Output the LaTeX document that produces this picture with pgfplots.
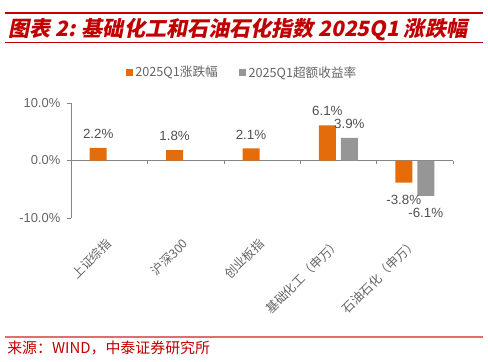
\documentclass[border=0pt]{standalone}
\usepackage{pgfplots}
\pgfplotsset{compat=1.18}
\usepackage{fontspec}
\setmainfont{Liberation Sans}
\newfontfamily\cjk{Noto Sans CJK SC}
\newfontfamily\cjkt[FakeSlant=0.2]{Noto Sans CJK SC}
\definecolor{orangebar}{RGB}{228,108,10}
\definecolor{graybar}{RGB}{150,150,150}
\definecolor{axcol}{RGB}{134,134,134}
\definecolor{tickcol}{RGB}{100,100,100}
\definecolor{labcol}{RGB}{80,80,80}
\definecolor{titlered}{RGB}{192,0,0}
\definecolor{linepink}{RGB}{224,110,110}
\begin{document}
\begin{tikzpicture}
\path[use as bounding box] (0,0) rectangle (366pt,270.75pt);
\draw[titlered, line width=1.5pt] (3.75pt,261pt) -- (362.25pt,261pt);
\node[anchor=base west, inner sep=0pt, text=titlered, font=\cjkt\bfseries\fontsize{15.8}{17}\selectfont] at (6pt,243pt) {图表 2: 基础化工和石油石化指数 2025Q1 涨跌幅};
\draw[titlered, line width=0.75pt] (3.75pt,238.5pt) -- (362.25pt,238.5pt);
\draw[linepink, line width=0.9pt] (3.75pt,18pt) -- (362.25pt,18pt);
\node[anchor=west, inner sep=0pt, text=titlered, font=\cjk\fontsize{11.2}{12}\selectfont] at (5.25pt,9.75pt) {来源：WIND，中泰证券研究所};
\begin{axis}[
  at={(53.25pt,107pt)}, anchor=south west, scale only axis,
  width=286.5pt, height=86.7pt,
  xmin=-0.5, xmax=4.5, ymin=-10, ymax=10,
  axis y line=left, axis x line=bottom,
  y axis line style={draw=axcol, -}, x axis line style={draw=none},
  xtick={0,1,2,3,4},
  xticklabels={上证综指,沪深300,创业板指,基础化工（申万）,石油石化（申万）},
  xtick style={draw=none},
  xticklabel style={rotate=45, anchor=east, font=\cjk\fontsize{9.3}{10}\selectfont, text=tickcol, inner sep=0pt},
  xticklabel shift=14pt,
  ytick={-10,0,10}, yticklabels={-10.0\%,0.0\%,10.0\%},
  ytick style={draw=axcol}, tick align=outside, major tick length=3pt,
  yticklabel style={font=\fontsize{9.7}{11}\selectfont, text=tickcol, xshift=-1.5pt},
  ybar, bar width=12.75pt,
  clip=false,
  /pgf/number format/assume math mode=true,
  legend style={at={(0.449,1.26)}, anchor=center, draw=none, fill=none,
    legend columns=2, font=\cjk\fontsize{9.5}{11}\selectfont, text=tickcol,
    /tikz/every even column/.append style={column sep=14pt}},
  legend image code/.code={\fill[#1] (0pt,-2.5pt) rectangle (5pt,2.5pt);},
  nodes near coords={\pgfmathprintnumber[fixed,fixed zerofill,precision=1]{\pgfplotspointmeta}\%},
  visualization depends on={y \as \rawy},
  every node near coord/.append style={font=\fontsize{10}{12}\selectfont, text=labcol, anchor=center, yshift={\rawy>0 ? 10.5 : -12.75}},
]
\draw[axcol] (axis cs:-0.5,0) -- (axis cs:4.5,0);
\pgfplotsinvokeforeach{0.5,1.5,2.5,3.5,4.5}{\draw[axcol] (axis cs:#1,0) -- ([yshift=-2.5pt]axis cs:#1,0);}
\addplot[fill=orangebar, draw=none, bar shift=-8.25pt] coordinates {(0,2.2) (1,1.8) (2,2.1) (3,6.1) (4,-3.8)};
\addplot[fill=graybar, draw=none, bar shift=8.25pt] coordinates {(3,3.9) (4,-6.1)};
\legend{2025Q1涨跌幅,2025Q1超额收益率}
\end{axis}
\end{tikzpicture}
\end{document}
